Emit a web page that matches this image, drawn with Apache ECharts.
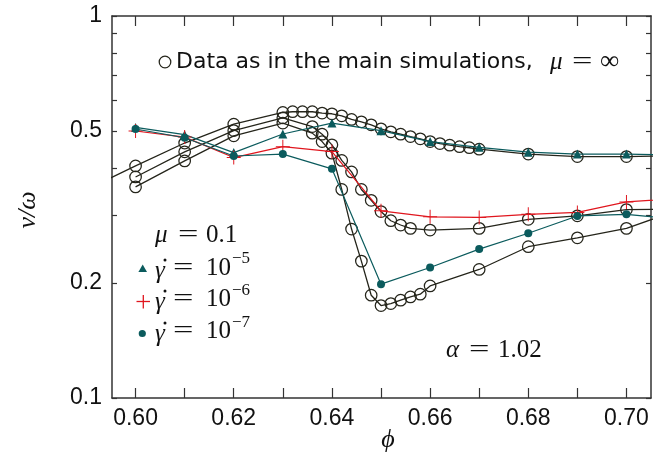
<!DOCTYPE html>
<html><head><meta charset="utf-8">
<script src="https://cdn.jsdelivr.net/npm/echarts@6/dist/echarts.min.js"></script>
<style>html,body{margin:0;padding:0;background:#fff}#c{width:669px;height:459px}</style>
</head><body><div id="c"></div>
<script>
// ---- data ----
const phiA = [0.59,0.60,0.61,0.62,0.63,0.632,0.634,0.636,0.638,0.640,0.642,0.644,0.646,0.648,0.650,0.652,0.654,0.656,0.658,0.660,0.662,0.664,0.666,0.668,0.670,0.68,0.69,0.70,0.71];
const valA = [0.351,0.405,0.465,0.521,0.559,0.5615,0.5615,0.5615,0.557,0.5547,0.548,0.536,0.5285,0.519,0.5067,0.4975,0.4906,0.4836,0.477,0.469,0.4636,0.459,0.455,0.452,0.448,0.435,0.4286,0.4286,0.431];
const phiB = [0.60,0.61,0.62,0.63,0.636,0.638,0.640,0.642,0.644,0.646,0.648,0.650,0.652,0.654,0.656,0.66,0.67,0.68,0.69,0.70,0.71];
const valB = [0.379,0.441,0.5014,0.5415,0.5137,0.4906,0.46,0.4188,0.3907,0.3515,0.3293,0.3077,0.2911,0.2837,0.278,0.2752,0.278,0.2936,0.2999,0.3113,0.3124];
const phiC = [0.60,0.61,0.62,0.63,0.636,0.638,0.640,0.642,0.644,0.646,0.648,0.650,0.652,0.654,0.656,0.658,0.660,0.67,0.68,0.69,0.70,0.71];
const valC = [0.357,0.4175,0.4857,0.5244,0.4936,0.469,0.4375,0.3515,0.2769,0.2282,0.1858,0.1746,0.1767,0.1803,0.1839,0.1869,0.1965,0.2170,0.2489,0.2627,0.278,0.3087];
const phiMu = [0.60,0.61,0.62,0.63,0.64,0.65,0.66,0.67,0.68,0.69,0.70,0.71];
const valG5 = [0.511,0.489,0.439,0.491,0.5244,0.501,0.469,0.453,0.44,0.435,0.435,0.4325];
const valG6 = [0.50,0.482,0.426,0.455,0.4417,0.309,0.298,0.297,0.3026,0.306,0.326,0.333];
const valG7 = [0.506,0.48,0.43,0.435,0.398,0.1986,0.2196,0.2454,0.27,0.2996,0.3026,0.294];
const xTicks = [0.60,0.61,0.62,0.63,0.64,0.65,0.66,0.67,0.68,0.69,0.70];
const xLabels = [0.60,0.62,0.64,0.66,0.68,0.70];
const yTicks = [0.1,0.2,0.3,0.4,0.5,0.6,0.7,0.8,0.9,1];
const yLabels = [0.1,0.2,0.5,1];

const BLACK = '#25251b', TEAL = '#0b5b5d', RED = '#e0161e', AX = '#333';
const SANS = 'Liberation Sans', SERIF = 'Liberation Serif';
const pairs = (xs, ys) => xs.map((x, i) => [x, ys[i]]);
const PLUS = 'path://M-0.07,-1H0.07V-0.07H1V0.07H0.07V1H-0.07V0.07H-1V-0.07H-0.07Z';

function xAx(pos, labels) {
  return {type:'value', position:pos, min:0.5952, max:0.705,
    axisLine:{show:true, onZero:false, lineStyle:{color:AX, width:1.5}},
    axisTick:{show:true, inside:true, length:10, customValues:xTicks, lineStyle:{color:AX, width:1.2}},
    axisLabel:{show:labels, customValues:xLabels, formatter:v=>Number(v).toFixed(2), fontFamily:SANS, fontSize:23, color:'#111', margin:9},
    splitLine:{show:false}};
}
function yAx(pos, labels) {
  return {type:'log', logBase:10, position:pos, min:0.1, max:1,
    axisLine:{show:true, onZero:false, lineStyle:{color:AX, width:1.5}},
    axisTick:{show:true, inside:true, length:5, customValues:yTicks, lineStyle:{color:AX, width:1.2}},
    axisLabel:{show:labels, customValues:yLabels, formatter:v=>String(+Number(v).toPrecision(3)), fontFamily:SANS, fontSize:23, color:'#111', margin:10},
    splitLine:{show:false}, minorTick:{show:false}};
}
function blackSeries(xs, ys) {
  return {type:'line', data:pairs(xs, ys), symbol:'circle', symbolSize:11.5, clip:true, z:2,
    itemStyle:{color:'rgba(255,255,255,0)', borderColor:BLACK, borderWidth:1.25},
    lineStyle:{color:BLACK, width:1.3}, emphasis:{disabled:true}};
}
function muSeries(ys, sym, size, color, z) {
  return {type:'line', data:pairs(phiMu, ys), symbol:sym, symbolSize:size, clip:true, z:z,
    itemStyle:{color:color}, lineStyle:{color:color, width:1.2}, emphasis:{disabled:true}};
}
function txt(x, y, s, font, align, sx) {
  return {type:'text', x:x, y:y, z:100, scaleX:sx||1, style:{text:s, font:font, fill:'#111', align:align||'left', verticalAlign:'middle'}};
}
function eq(x, y) { return txt(x, y, '=', '25px ' + SERIF, 'left', 1.45); }
function dot(x, y) {
  return {type:'circle', z:100, shape:{cx:x, cy:y, r:1.5}, style:{fill:'#111'}};
}

const graphic = [
  {type:'circle', shape:{cx:165, cy:62, r:5.8}, z:100, style:{fill:'none', stroke:BLACK, lineWidth:1.25}},
  txt(176, 62, 'Data as in the main simulations,', '22px DejaVu Sans'),
  txt(550, 62, 'μ', 'italic 25px ' + SERIF),
  eq(572, 62),
  txt(600, 62, '∞', '27px ' + SERIF),

  txt(155, 235, 'μ', 'italic 25px ' + SERIF),
  eq(178, 235),
  txt(206, 235, '0.1', '25px ' + SERIF),

  {type:'polygon', z:100, shape:{points:[[142.7,264.5],[147,272],[138.4,272]]}, style:{fill:TEAL}},
  txt(155, 271, 'γ', 'italic 25px ' + SERIF), dot(165, 260),
  eq(173, 268),
  txt(206, 268, '10', '25px ' + SERIF),
  txt(232, 259, '−5', '17px ' + SERIF),

  {type:'line', z:100, shape:{x1:136.5, y1:301.5, x2:150, y2:301.5}, style:{stroke:RED, lineWidth:1.3}},
  {type:'line', z:100, shape:{x1:143.3, y1:295, x2:143.3, y2:308.5}, style:{stroke:RED, lineWidth:1.3}},
  txt(155, 302, 'γ', 'italic 25px ' + SERIF), dot(165, 291),
  eq(173, 299),
  txt(206, 299, '10', '25px ' + SERIF),
  txt(232, 291, '−6', '17px ' + SERIF),

  {type:'circle', z:100, shape:{cx:142.3, cy:333.5, r:3.6}, style:{fill:TEAL}},
  txt(155, 334, 'γ', 'italic 25px ' + SERIF), dot(165, 323),
  eq(173, 331),
  txt(206, 331, '10', '25px ' + SERIF),
  txt(232, 323, '−7', '17px ' + SERIF),

  txt(446, 350, 'α', 'italic 25px ' + SERIF),
  eq(469, 350),
  txt(498, 350, '1.02', '25px ' + SERIF),

  txt(388, 440, 'ϕ', 'italic 26px ' + SERIF, 'center'),
  {type:'text', x:28, y:210, rotation:Math.PI/2, z:100,
   style:{text:'v/ω', font:'italic 26px ' + SERIF, fill:'#111', align:'center', verticalAlign:'middle'}}
];

const chart = echarts.init(document.getElementById('c'), null, {renderer:'canvas'});
chart.setOption({
  animation:false,
  backgroundColor:'#fff',
  grid:{left:112, right:18, top:16, bottom:61, containLabel:false},
  xAxis:[xAx('bottom', true), xAx('top', false)],
  yAxis:[yAx('left', true), yAx('right', false)],
  series:[
    blackSeries(phiA, valA),
    blackSeries(phiB, valB),
    blackSeries(phiC, valC),
    muSeries(valG5, 'triangle', 9, TEAL, 4),
    muSeries(valG6, PLUS, 14, RED, 5),
    muSeries(valG7, 'circle', 8, TEAL, 6)
  ],
  graphic:graphic
});
</script></body></html>
